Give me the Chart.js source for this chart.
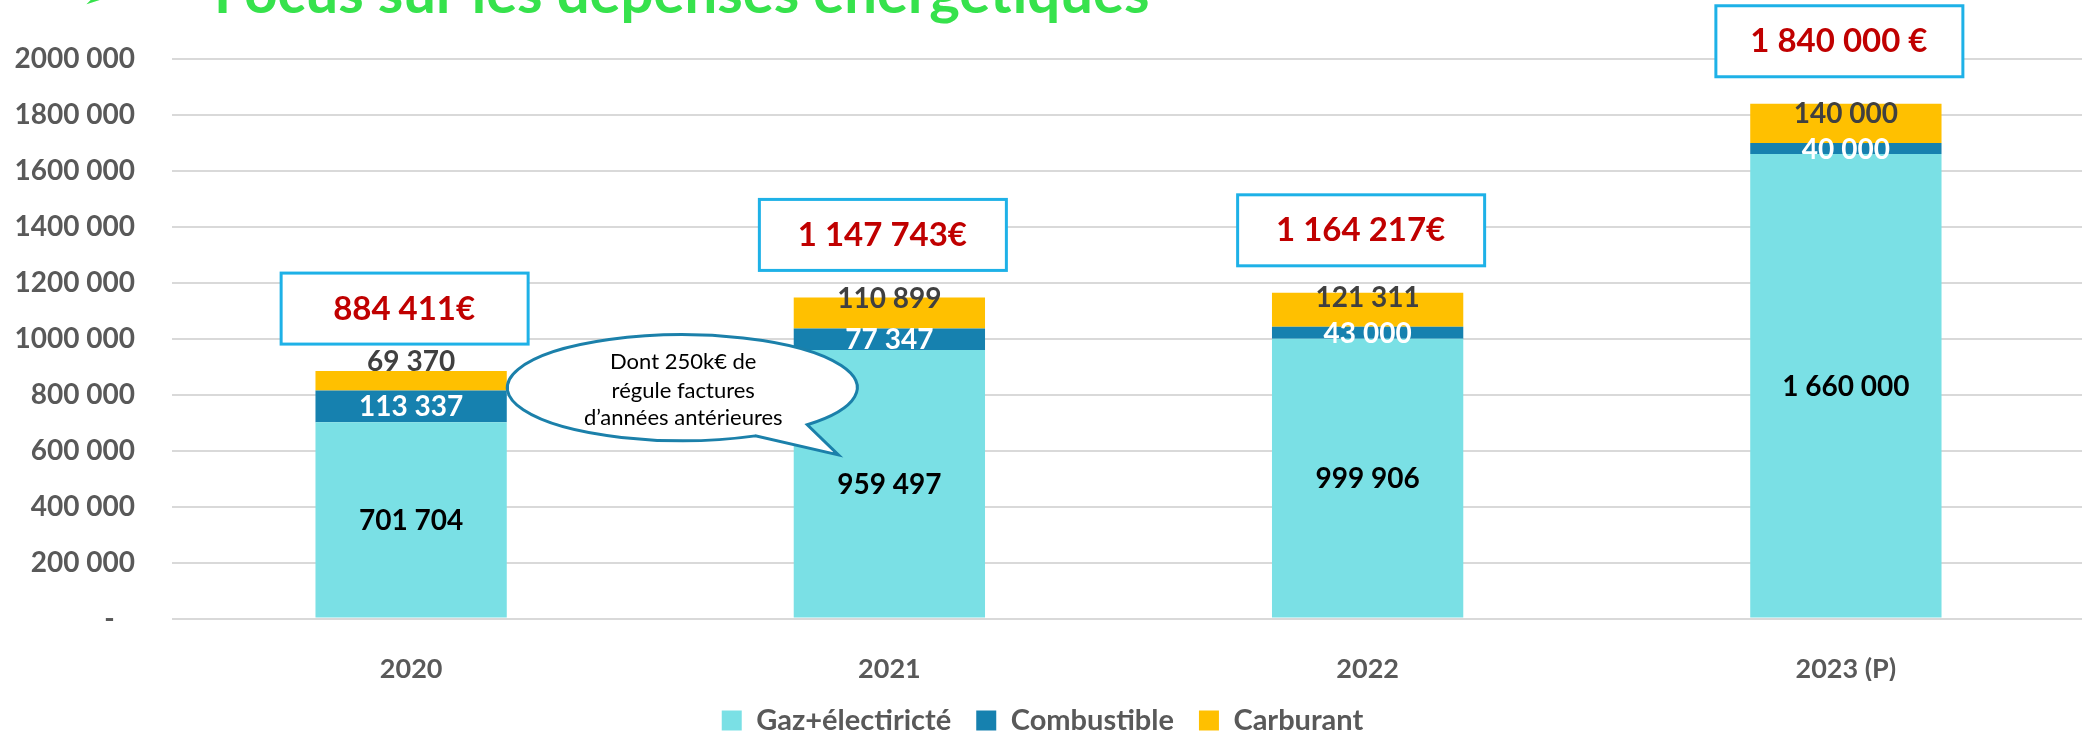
<!DOCTYPE html>
<html>
<head>
<meta charset="utf-8">
<script src="https://cdn.jsdelivr.net/npm/chart.js"></script>
<style>
	html, body { margin: 0; padding: 0; background: #fff; overflow: hidden; }
</style>
</head>
<body>
<canvas id="myChart" width="2092" height="735"></canvas>
<script>
var years = ['2020', '2021', '2022', '2023 (P)'];
var gazElec = [701704, 959497, 999906, 1660000];
var combustible = [113337, 77347, 43000, 40000];
var carburant = [69370, 110899, 121311, 140000];
var totalLabels = ['884 411€', '1 147 743€', '1 164 217€', '1 840 000 €'];
var yTickLabels = ['-', '200 000', '400 000', '600 000', '800 000', '1000 000',
	'1200 000', '1400 000', '1600 000', '1800 000', '2000 000'];
var calloutLines = ['Dont 250k€ de', 'régule factures', 'd’années antérieures'];
var titleText = 'Focus sur les dépenses énergétiques';

function fmt(v) {
	return String(v).replace(/\B(?=(\d{3})+(?!\d))/g, ' ');
}

// title, value labels, total boxes and the speech bubble
var decor = {
	id: 'decor',
	beforeDraw: function(chart) {
		var ctx = chart.ctx;
		ctx.save();
		ctx.fillStyle = '#36E24C';
		ctx.textBaseline = 'alphabetic';
		ctx.font = '40px "DejaVu Sans"';
		ctx.fillText('➢', 82, 8);
		ctx.font = 'bold 58px Lato';
		ctx.fillText(titleText, 214, 13);
		ctx.restore();
	},
	afterDatasetsDraw: function(chart) {
		var ctx = chart.ctx;
		var xs = chart.scales.x, ys = chart.scales.y;
		var colors = ['#000000', '#FFFFFF', '#404040'];
		ctx.save();
		ctx.textAlign = 'center';
		ctx.textBaseline = 'middle';
		ctx.font = 'bold 28px Lato';
		chart.data.datasets.forEach(function(ds, i) {
			var meta = chart.getDatasetMeta(i);
			meta.data.forEach(function(bar, j) {
				var y = (i === 2) ? bar.base - 30 : (bar.y + bar.base) / 2;
				ctx.fillStyle = colors[i];
				ctx.fillText(fmt(ds.data[j]), bar.x, y + 1);
			});
		});

		// totals in boxes
		for (var j = 0; j < years.length; j++) {
			var total = gazElec[j] + combustible[j] + carburant[j];
			var cx = xs.getPixelForValue(j) - 7;
			var cy = ys.getPixelForValue(total) - 63;
			ctx.fillStyle = '#fff';
			ctx.fillRect(cx - 123, cy - 35, 247, 71);
			ctx.lineWidth = 3;
			ctx.strokeStyle = '#1EB1E7';
			ctx.strokeRect(cx - 123, cy - 35, 247, 71);
			ctx.fillStyle = '#C00000';
			ctx.font = 'bold 33px Lato';
			ctx.fillText(totalLabels[j], cx, cy + 1);
		}

		// callout bubble
		var bx = (xs.getPixelForValue(0) + xs.getPixelForValue(1)) / 2 + 32;
		var by = ys.getPixelForValue(825000);
		var tipX = xs.getPixelForValue(1) - 51;
		var tipY = ys.getPixelForValue(585000);
		ctx.beginPath();
		ctx.ellipse(bx, by, 175, 53, 0, 1.14, 0.775, false);
		ctx.lineTo(tipX, tipY);
		ctx.closePath();
		ctx.fillStyle = '#fff';
		ctx.fill();
		ctx.lineWidth = 3;
		ctx.strokeStyle = '#1B80AA';
		ctx.stroke();
		ctx.fillStyle = '#000';
		ctx.font = '22px Lato';
		ctx.fillText(calloutLines[0], bx + 1, by - 26);
		ctx.fillText(calloutLines[1], bx + 1, by + 3);
		ctx.fillText(calloutLines[2], bx + 1, by + 30);
		ctx.restore();
	}
};

Chart.defaults.font.family = 'Lato';

var ctx = document.getElementById('myChart').getContext('2d');
var myChart = new Chart(ctx, {
	type: 'bar',
	data: {
		labels: years,
		datasets: [
			{ label: 'Gaz+électiricté', data: gazElec, backgroundColor: '#7AE0E5' },
			{ label: 'Combustible', data: combustible, backgroundColor: '#1681AF' },
			{ label: 'Carburant', data: carburant, backgroundColor: '#FFC000' }
		]
	},
	options: {
		responsive: false,
		animation: false,
		devicePixelRatio: 1,
		barPercentage: 0.4,
		categoryPercentage: 1,
		layout: { padding: { top: 59, right: 7, bottom: -10, left: 0 } },
		plugins: {
			legend: {
				position: 'bottom',
				labels: {
					font: { size: 29, weight: 'bold' },
					color: '#595959',
					boxWidth: 20,
					boxHeight: 20,
					padding: 25
				}
			},
			tooltip: { enabled: false }
		},
		scales: {
			x: {
				stacked: true,
				grid: { display: false },
				border: { display: false },
				ticks: { font: { size: 27, weight: 'bold' }, color: '#595959', padding: 27 },
				afterFit: function(s) { s.height = 62.5; }
			},
			y: {
				stacked: true,
				min: 0,
				max: 2000000,
				grid: { color: '#D9D9D9', lineWidth: 2, drawTicks: false },
				border: { display: false },
				ticks: {
					stepSize: 200000,
					padding: 37,
					font: { size: 28, weight: 'bold' },
					color: '#595959',
					callback: function(v, i) {
						return i === 0 ? yTickLabels[i] + '\u00a0\u00a0\u00a0' : yTickLabels[i];
					}
				},
				afterFit: function(s) { s.width = 172; }
			}
		}
	},
	plugins: [decor]
});
</script>
</body>
</html>
